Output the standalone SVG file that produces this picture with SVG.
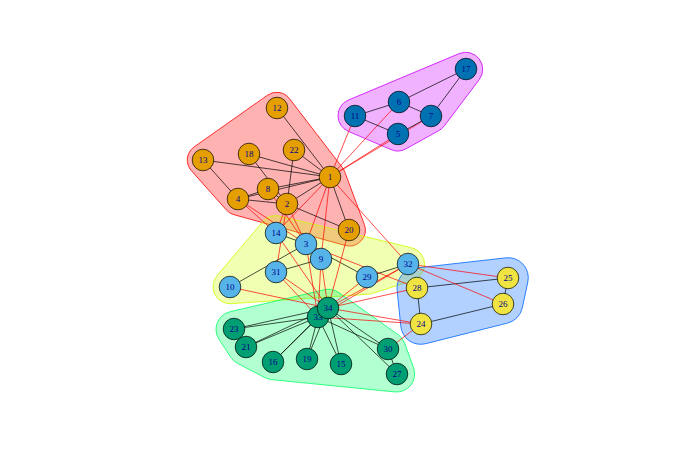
<svg xmlns="http://www.w3.org/2000/svg" width="690" height="455" viewBox="0 0 690 455">
<style>
.hull{stroke-width:0.8}
.e{stroke:#000;stroke-width:0.7;fill:none}
.x{stroke:#ff0000;stroke-width:0.7;fill:none}
circle{stroke:#000;stroke-width:0.7}
text{font-family:"Liberation Serif","DejaVu Serif",serif;font-size:9px;fill:#00008B;text-anchor:middle;dominant-baseline:central}
.o{fill:#E69F00}.b{fill:#0072B2}.l{fill:#56B4E9}.g{fill:#009E73}.y{fill:#F0E442}
</style>
<rect width="690" height="455" fill="#fff"/>
<g id="hulls">
<path class="hull" fill="#FF0000" fill-opacity="0.3" stroke="#FF0000" d="M 289.4,98.55 L 342.4,167.55 A 16 16 0 0 1 344.7,171.7 L 364.3,224.4 A16 16 0 0 1 345.04,245.42 L 234.04,214.72 A 16 16 0 0 1 226.35,209.95 L 191.35,170.65 A 16 16 0 0 1 194.09,146.92 L 267.49,95.22 A 16 16 0 0 1 289.4,98.55 Z"/>
<path class="hull" fill="#CCFF00" fill-opacity="0.3" stroke="#CCFF00" d="M 279.66,216.17 L 411.66,247.77 A17 17 0 0 1 412.87,280.49 L 372.17,293.49 A17 17 0 0 1 368.16,294.26 L 231.16,303.66 A17 17 0 0 1 217.02,275.72 L 262.72,221.72 A17 17 0 0 1 279.66,216.17 Z"/>
<path class="hull" fill="#00FF66" fill-opacity="0.3" stroke="#00FF66" d="M 338.69,292.6 L 398.09,334.6 A18 18 0 0 1 404.61,343.14 L 413.61,367.84 A18 18 0 0 1 394.92,391.91 L 271.52,379.61 A18 18 0 0 1 264.97,377.66 L 237.37,363.26 A18 18 0 0 1 230.61,357.11 L 218.91,339.11 A18 18 0 0 1 229.91,311.77 L 324.21,289.77 A18 18 0 0 1 338.69,292.6 Z"/>
<path class="hull" fill="#0066FF" fill-opacity="0.3" stroke="#0066FF" d="M 414.76,268.13 L 506.06,257.83 A20 20 0 0 1 527.85,281.91 L 522.25,307.91 A20 20 0 0 1 507.57,323.1 L 425.57,343.7 A20 20 0 0 1 400.8,326.33 L 397.1,290.03 A20 20 0 0 1 414.76,268.13 Z"/>
<path class="hull" fill="#CC00FF" fill-opacity="0.3" stroke="#CC00FF" d="M 479.28,79.54 L 444.28,125.94 A17 17 0 0 1 438.95,130.57 L 405.95,148.87 A17 17 0 0 1 391.0,149.62 L 348.3,131.32 A 17 17 0 0 1 348.43,100.02 L 459.13,53.62 A 17 17 0 0 1 479.28,79.54 Z"/>
</g>
<g id="edges">
<line class="e" x1="330" y1="177" x2="287" y2="204"/>
<line class="x" x1="330" y1="177" x2="306" y2="244"/>
<line class="e" x1="330" y1="177" x2="238" y2="199"/>
<line class="x" x1="330" y1="177" x2="398" y2="134"/>
<line class="x" x1="330" y1="177" x2="399" y2="102"/>
<line class="x" x1="330" y1="177" x2="431" y2="116"/>
<line class="e" x1="330" y1="177" x2="268" y2="189"/>
<line class="x" x1="330" y1="177" x2="321" y2="259"/>
<line class="x" x1="330" y1="177" x2="355" y2="116"/>
<line class="e" x1="330" y1="177" x2="277" y2="108"/>
<line class="e" x1="330" y1="177" x2="203" y2="160"/>
<line class="x" x1="330" y1="177" x2="276" y2="233"/>
<line class="e" x1="330" y1="177" x2="249" y2="154"/>
<line class="e" x1="330" y1="177" x2="349" y2="230"/>
<line class="e" x1="330" y1="177" x2="294" y2="150"/>
<line class="x" x1="330" y1="177" x2="408" y2="264"/>
<line class="x" x1="287" y1="204" x2="306" y2="244"/>
<line class="e" x1="287" y1="204" x2="238" y2="199"/>
<line class="e" x1="287" y1="204" x2="268" y2="189"/>
<line class="x" x1="287" y1="204" x2="276" y2="233"/>
<line class="e" x1="287" y1="204" x2="249" y2="154"/>
<line class="e" x1="287" y1="204" x2="349" y2="230"/>
<line class="e" x1="287" y1="204" x2="294" y2="150"/>
<line class="x" x1="287" y1="204" x2="276" y2="272"/>
<line class="x" x1="306" y1="244" x2="238" y2="199"/>
<line class="x" x1="306" y1="244" x2="268" y2="189"/>
<line class="e" x1="306" y1="244" x2="321" y2="259"/>
<line class="e" x1="306" y1="244" x2="230" y2="287"/>
<line class="e" x1="306" y1="244" x2="276" y2="233"/>
<line class="x" x1="306" y1="244" x2="417" y2="288"/>
<line class="e" x1="306" y1="244" x2="367" y2="277"/>
<line class="x" x1="306" y1="244" x2="318" y2="317"/>
<line class="e" x1="238" y1="199" x2="268" y2="189"/>
<line class="e" x1="238" y1="199" x2="203" y2="160"/>
<line class="x" x1="238" y1="199" x2="276" y2="233"/>
<line class="e" x1="398" y1="134" x2="431" y2="116"/>
<line class="e" x1="398" y1="134" x2="355" y2="116"/>
<line class="e" x1="399" y1="102" x2="431" y2="116"/>
<line class="e" x1="399" y1="102" x2="355" y2="116"/>
<line class="e" x1="399" y1="102" x2="466" y2="69"/>
<line class="e" x1="431" y1="116" x2="466" y2="69"/>
<line class="e" x1="321" y1="259" x2="276" y2="272"/>
<line class="x" x1="321" y1="259" x2="318" y2="317"/>
<line class="x" x1="321" y1="259" x2="328" y2="308"/>
<line class="x" x1="230" y1="287" x2="328" y2="308"/>
<line class="x" x1="276" y1="233" x2="328" y2="308"/>
<line class="e" x1="341" y1="364" x2="318" y2="317"/>
<line class="e" x1="341" y1="364" x2="328" y2="308"/>
<line class="e" x1="273" y1="362" x2="318" y2="317"/>
<line class="e" x1="273" y1="362" x2="328" y2="308"/>
<line class="e" x1="307" y1="359" x2="318" y2="317"/>
<line class="e" x1="307" y1="359" x2="328" y2="308"/>
<line class="x" x1="349" y1="230" x2="328" y2="308"/>
<line class="e" x1="246" y1="347" x2="318" y2="317"/>
<line class="e" x1="246" y1="347" x2="328" y2="308"/>
<line class="e" x1="234" y1="329" x2="318" y2="317"/>
<line class="e" x1="234" y1="329" x2="328" y2="308"/>
<line class="e" x1="421" y1="324" x2="503" y2="304"/>
<line class="e" x1="421" y1="324" x2="417" y2="288"/>
<line class="x" x1="421" y1="324" x2="388" y2="349"/>
<line class="x" x1="421" y1="324" x2="318" y2="317"/>
<line class="x" x1="421" y1="324" x2="328" y2="308"/>
<line class="e" x1="508" y1="278" x2="503" y2="304"/>
<line class="e" x1="508" y1="278" x2="417" y2="288"/>
<line class="x" x1="508" y1="278" x2="408" y2="264"/>
<line class="x" x1="503" y1="304" x2="408" y2="264"/>
<line class="e" x1="397" y1="374" x2="388" y2="349"/>
<line class="e" x1="397" y1="374" x2="328" y2="308"/>
<line class="x" x1="417" y1="288" x2="328" y2="308"/>
<line class="e" x1="367" y1="277" x2="408" y2="264"/>
<line class="x" x1="367" y1="277" x2="328" y2="308"/>
<line class="e" x1="388" y1="349" x2="318" y2="317"/>
<line class="e" x1="388" y1="349" x2="328" y2="308"/>
<line class="x" x1="276" y1="272" x2="318" y2="317"/>
<line class="x" x1="276" y1="272" x2="328" y2="308"/>
<line class="x" x1="408" y1="264" x2="318" y2="317"/>
<line class="x" x1="408" y1="264" x2="328" y2="308"/>
<line class="e" x1="318" y1="317" x2="328" y2="308"/>
</g>
<g id="n1"><circle class="o" cx="330" cy="177" r="10.8"/><text x="330" y="177">1</text></g>
<g id="n2"><circle class="o" cx="287" cy="204" r="10.8"/><text x="287" y="204">2</text></g>
<g id="n3"><circle class="l" cx="306" cy="244" r="10.8"/><text x="306" y="244">3</text></g>
<g id="n4"><circle class="o" cx="238" cy="199" r="10.8"/><text x="238" y="199">4</text></g>
<g id="n5"><circle class="b" cx="398" cy="134" r="10.8"/><text x="398" y="134">5</text></g>
<g id="n6"><circle class="b" cx="399" cy="102" r="10.8"/><text x="399" y="102">6</text></g>
<g id="n7"><circle class="b" cx="431" cy="116" r="10.8"/><text x="431" y="116">7</text></g>
<g id="n8"><circle class="o" cx="268" cy="189" r="10.8"/><text x="268" y="189">8</text></g>
<g id="n9"><circle class="l" cx="321" cy="259" r="10.8"/><text x="321" y="259">9</text></g>
<g id="n10"><circle class="l" cx="230" cy="287" r="10.8"/><text x="230" y="287">10</text></g>
<g id="n11"><circle class="b" cx="355" cy="116" r="10.8"/><text x="355" y="116">11</text></g>
<g id="n12"><circle class="o" cx="277" cy="108" r="10.8"/><text x="277" y="108">12</text></g>
<g id="n13"><circle class="o" cx="203" cy="160" r="10.8"/><text x="203" y="160">13</text></g>
<g id="n14"><circle class="l" cx="276" cy="233" r="10.8"/><text x="276" y="233">14</text></g>
<g id="n15"><circle class="g" cx="341" cy="364" r="10.8"/><text x="341" y="364">15</text></g>
<g id="n16"><circle class="g" cx="273" cy="362" r="10.8"/><text x="273" y="362">16</text></g>
<g id="n17"><circle class="b" cx="466" cy="69" r="10.8"/><text x="466" y="69">17</text></g>
<g id="n18"><circle class="o" cx="249" cy="154" r="10.8"/><text x="249" y="154">18</text></g>
<g id="n19"><circle class="g" cx="307" cy="359" r="10.8"/><text x="307" y="359">19</text></g>
<g id="n20"><circle class="o" cx="349" cy="230" r="10.8"/><text x="349" y="230">20</text></g>
<g id="n21"><circle class="g" cx="246" cy="347" r="10.8"/><text x="246" y="347">21</text></g>
<g id="n22"><circle class="o" cx="294" cy="150" r="10.8"/><text x="294" y="150">22</text></g>
<g id="n23"><circle class="g" cx="234" cy="329" r="10.8"/><text x="234" y="329">23</text></g>
<g id="n24"><circle class="y" cx="421" cy="324" r="10.8"/><text x="421" y="324">24</text></g>
<g id="n25"><circle class="y" cx="508" cy="278" r="10.8"/><text x="508" y="278">25</text></g>
<g id="n26"><circle class="y" cx="503" cy="304" r="10.8"/><text x="503" y="304">26</text></g>
<g id="n27"><circle class="g" cx="397" cy="374" r="10.8"/><text x="397" y="374">27</text></g>
<g id="n28"><circle class="y" cx="417" cy="288" r="10.8"/><text x="417" y="288">28</text></g>
<g id="n29"><circle class="l" cx="367" cy="277" r="10.8"/><text x="367" y="277">29</text></g>
<g id="n30"><circle class="g" cx="388" cy="349" r="10.8"/><text x="388" y="349">30</text></g>
<g id="n31"><circle class="l" cx="276" cy="272" r="10.8"/><text x="276" y="272">31</text></g>
<g id="n32"><circle class="l" cx="408" cy="264" r="10.8"/><text x="408" y="264">32</text></g>
<g id="n33"><circle class="g" cx="318" cy="317" r="10.8"/><text x="318" y="317">33</text></g>
<g id="n34"><circle class="g" cx="328" cy="308" r="10.8"/><text x="328" y="308">34</text></g>
</svg>
